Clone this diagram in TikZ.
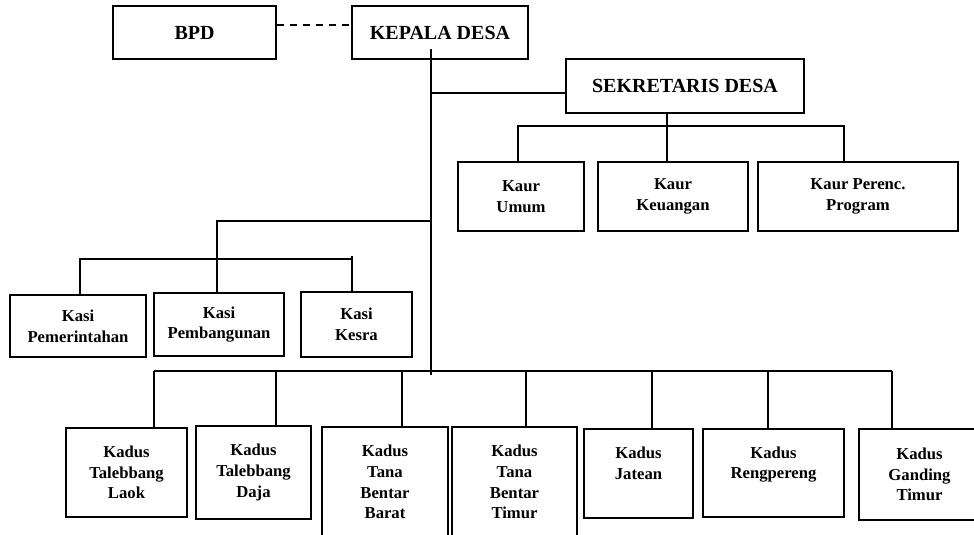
\documentclass[tikz,border=0pt]{standalone}
\usepackage{fontspec}
\setmainfont{Liberation Serif}
\begin{document}
\begin{tikzpicture}[x=0.75pt,y=-0.75pt,
	kotak/.style={draw, line width=1.4pt, align=center, inner sep=0pt,
		font=\bfseries\fontsize{12.5}{15.5}\selectfont},
	kotakbesar/.style={kotak, font=\bfseries\fontsize{15}{18}\selectfont},
	garis/.style={line width=1.4pt}]
			%%%%% START %%%%%
			\useasboundingbox (0,0) rectangle (974,535);
			
			\node[kotakbesar, minimum width=122.25pt, minimum height=39.75pt] (bpd) at (194.5,32.5) {BPD};
			\node[kotakbesar, minimum width=132pt, minimum height=39.75pt] (kepala) at (440,32.5) {KEPALA DESA};
			\node[kotakbesar, minimum width=178.5pt, minimum height=40.5pt] (sekdes) at (685,86) {SEKRETARIS DESA};
			
			\node[kotak, minimum width=94.5pt, minimum height=51.75pt] (kaurA) at (521,196.5) {Kaur\\Umum};
			\node[kotak, minimum width=112.5pt, minimum height=51.75pt] (kaurB) at (673,196.5) {Kaur\\Keuangan};
			\node[kotak, minimum width=150pt, minimum height=51.75pt] (kaurC) at (858,196.5) {Kaur Perenc.\\Program};
			
			\node[kotak, minimum width=102pt, minimum height=46.5pt] (kasiA) at (78,326) {Kasi\\Pemerintahan};
			\node[kotak, minimum width=97.5pt, minimum height=47.25pt] (kasiB) at (219,324.5) {Kasi\\Pembangunan};
			\node[kotak, minimum width=83.25pt, minimum height=48.75pt] (kasiC) at (356.5,324.5) {Kasi\\Kesra};
			
			\node[kotak, minimum width=90.75pt, minimum height=66.75pt] (kadusA) at (126.5,472.5) {Kadus\\Talebbang\\Laok};
			\node[kotak, minimum width=86.25pt, minimum height=69.75pt] (kadusB) at (253.5,472.5) {Kadus\\Talebbang\\Daja};
			\node[kotak, minimum width=94.5pt, minimum height=82.5pt] (kadusC) at (385,482) {Kadus\\Tana\\Bentar\\Barat};
			\node[kotak, minimum width=93.75pt, minimum height=82.5pt] (kadusD) at (514.5,482) {Kadus\\Tana\\Bentar\\Timur};
			\node[kotak, minimum width=81.75pt, minimum height=66.75pt] (kadusE) at (638.5,473.5) {Kadus\\Jatean\\\mbox{}};
			\node[kotak, minimum width=105.75pt, minimum height=66pt] (kadusF) at (773.5,473) {Kadus\\Rengpereng\\\mbox{}};
			\node[kotak, minimum width=90.75pt, minimum height=68.25pt] (kadusG) at (919.5,474.5) {Kadus\\Ganding\\Timur};
			
			\coordinate (spinetop) at (431,49);
			\coordinate (spine) at (431,375);
			\coordinate (kaurbar) at (667,126);
			\coordinate (kasibr) at (217,221);
			\coordinate (kadusbar) at (431,371);
			
			\draw[garis, dash pattern=on 5.25pt off 4.5pt] (bpd.east |- 0,25) -- (kepala.west |- 0,25);
			\draw[garis] (spinetop) -- (spine);
			\draw[garis] (spine |- 0,93) -- (sekdes.west |- 0,93);
			
			\draw[garis] (sekdes.south -| kaurbar) -- (kaurbar |- kaurB.north);
			\draw[garis] (518,0 |- kaurA.north) |- (844,0 |- kaurbar) -- (844,0 |- kaurC.north);
			
			\draw[garis] (spine |- kasibr) -- (kasibr) -- (kasibr |- kasiB.north);
			\draw[garis] (80,0 |- kasiA.north) |- (352,259);
			\draw[garis] (352,256) -- (352,0 |- kasiC.north);
			
			\draw[garis] (154,0 |- kadusbar) -- (892,0 |- kadusbar);
			\foreach \n/\x in {kadusA/154, kadusB/276, kadusC/402, kadusD/526, kadusE/652, kadusF/768, kadusG/892}
				\draw[garis] (\x,0 |- kadusbar) -- (\x,0 |- \n.north);
			
			%%%%% END %%%%%
\end{tikzpicture}
\end{document}
